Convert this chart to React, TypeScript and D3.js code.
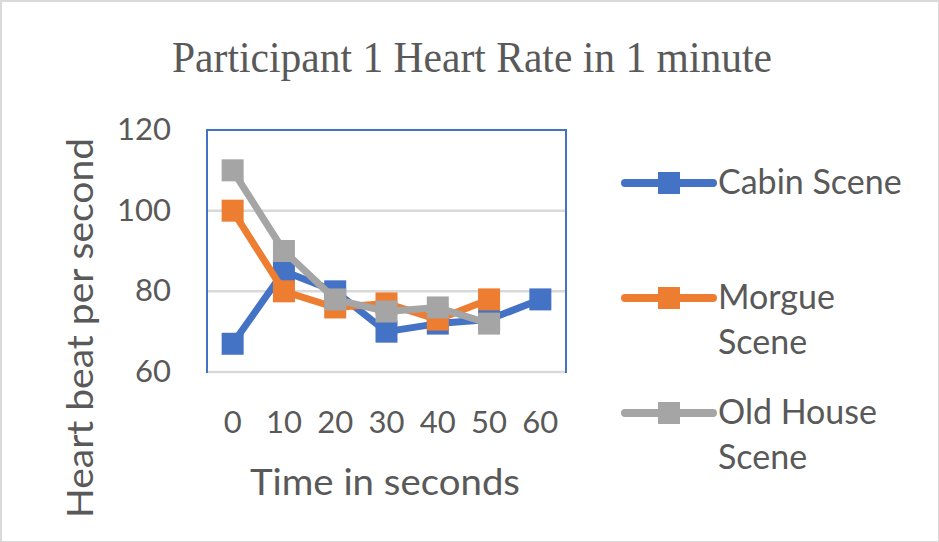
import React, { useEffect } from 'react';
import * as d3 from 'd3';

// data
const times = ['0', '10', '20', '30', '40', '50', '60'];
const cabinScene = [67, 85, 80, 70, 72, 73, 78];
const morgueScene = [100, 80, 76, 77, 73, 78, null];
const oldHouseScene = [110, 90, 78, 75, 76, 72, null];
const yTicks = [60, 80, 100, 120];

const series = [
  { name: ['Cabin Scene'], values: cabinScene, color: '#4472C4' },
  { name: ['Morgue', 'Scene'], values: morgueScene, color: '#ED7D31' },
  { name: ['Old House', 'Scene'], values: oldHouseScene, color: '#A5A5A5' },
];

const W = 939;
const H = 542;
const plot = { left: 207, right: 566, top: 130, bottom: 372 };
const font = 'Lato, "Open Sans", sans-serif';
const textColor = '#595959';

const App: React.FC = () => {
  useEffect(() => {
    document.body.style.margin = '0';
  }, []);

  const x = d3.scaleBand<string>().domain(times).range([plot.left, plot.right]);
  const y = d3.scaleLinear().domain([60, 120]).range([plot.bottom, plot.top]);
  const cx = (t: string) => (x(t) ?? 0) + x.bandwidth() / 2;

  const line = d3
    .line<number | null>()
    .defined((d) => d !== null)
    .x((_, i) => cx(times[i]))
    .y((d) => y(d as number));

  const markerSize = 22;
  const legendX = 625;
  const legendRows = [183, 298, 413];

  return (
    <svg width={W} height={H} style={{ display: 'block' }}>
      <rect x={1} y={1} width={W - 1} height={H - 1} fill="#fff" stroke="#d9d9d9" strokeWidth={2} />

      <text
        x={472}
        y={72}
        textAnchor="middle"
        fontFamily='"Liberation Serif", "Times New Roman", serif'
        fontSize={45}
        fill={textColor}
        textLength={600}
        lengthAdjust="spacingAndGlyphs"
      >
        Participant 1 Heart Rate in 1 minute
      </text>

      {/* gridlines */}
      {yTicks
        .filter((t) => t !== 60 && t !== 120)
        .map((t) => (
          <line key={t} x1={plot.left} x2={plot.right} y1={y(t)} y2={y(t)} stroke="#d9d9d9" strokeWidth={2.5} />
        ))}

      {/* plot area border */}
      <rect
        x={plot.left}
        y={plot.top}
        width={plot.right - plot.left}
        height={plot.bottom - plot.top}
        fill="none"
        stroke="#4472C4"
        strokeWidth={2}
      />
      <line x1={plot.left + 1} x2={plot.right - 1} y1={y(60)} y2={y(60)} stroke="#d9d9d9" strokeWidth={2.5} />

      {/* y tick labels */}
      {yTicks.map((t) => (
        <text key={t} x={171} y={y(t) + 10} textAnchor="end" fontFamily={font} fontSize={31} fill={textColor}>
          {t}
        </text>
      ))}

      {/* x tick labels */}
      {times.map((t) => (
        <text key={t} x={cx(t)} y={433} textAnchor="middle" fontFamily={font} fontSize={31} fill={textColor}>
          {t}
        </text>
      ))}

      <text
        x={385}
        y={495}
        textAnchor="middle"
        fontFamily={font}
        fontSize={37}
        fill={textColor}
        textLength={270}
        lengthAdjust="spacingAndGlyphs"
      >
        Time in seconds
      </text>

      <text
        transform="translate(93,328) rotate(-90)"
        textAnchor="middle"
        fontFamily={font}
        fontSize={37}
        fill={textColor}
        textLength={380}
        lengthAdjust="spacingAndGlyphs"
      >
        Heart beat per second
      </text>

      {/* series */}
      {series.map((s) => (
        <g key={s.name.join(' ')}>
          <path d={line(s.values) ?? ''} fill="none" stroke={s.color} strokeWidth={7} strokeLinejoin="round" />
          {s.values.map((v, i) =>
            v === null ? null : (
              <rect
                key={i}
                x={cx(times[i]) - markerSize / 2}
                y={y(v) - markerSize / 2}
                width={markerSize}
                height={markerSize}
                fill={s.color}
              />
            )
          )}
        </g>
      ))}

      {/* legend */}
      {series.map((s, k) => (
        <g key={k}>
          <line
            x1={legendX}
            x2={legendX + 88}
            y1={legendRows[k]}
            y2={legendRows[k]}
            stroke={s.color}
            strokeWidth={8}
            strokeLinecap="round"
          />
          <rect
            x={legendX + 44 - markerSize / 2}
            y={legendRows[k] - markerSize / 2}
            width={markerSize}
            height={markerSize}
            fill={s.color}
          />
          {s.name.map((n, j) => (
            <text key={j} x={718} y={legendRows[k] + 11 + j * 45} fontFamily={font} fontSize={34} fill={textColor}>
              {n}
            </text>
          ))}
        </g>
      ))}
    </svg>
  );
};

export default App;
